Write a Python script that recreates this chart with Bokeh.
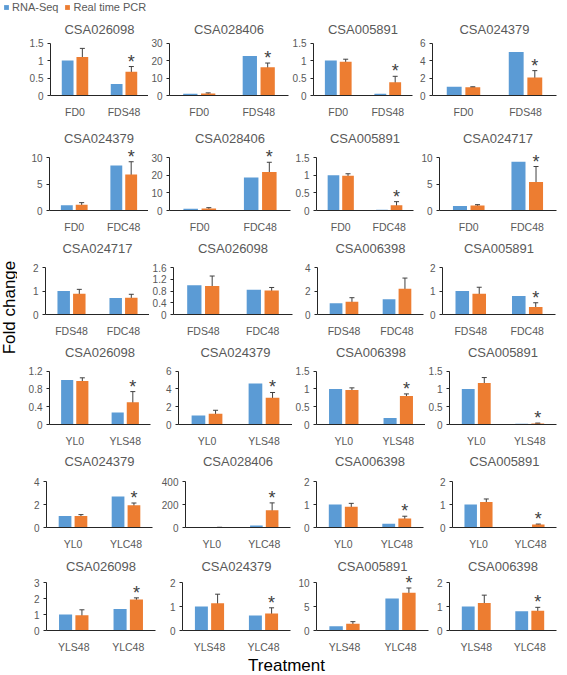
import numpy as np
from bokeh.plotting import figure
from bokeh.models import (Range1d, FixedTicker, NumeralTickFormatter, ColumnDataSource,
                          Whisker, TeeHead, LabelSet, Legend, LegendItem)
from bokeh.layouts import row, column
from bokeh.embed import file_html
from bokeh.resources import INLINE
from bokeh.core.properties import value

FONT = "Liberation Sans"
BLUE = "#5B9BD5"
ORANGE = "#ED7D31"
GREY = "#595959"
AXIS = "#262626"
ERRC = "#404040"

# ---------------- data (row-major, 6 rows x 4 columns) ----------------
genes = ["CSA026098", "CSA028406", "CSA005891", "CSA024379",
         "CSA024379", "CSA028406", "CSA005891", "CSA024717",
         "CSA024717", "CSA026098", "CSA006398", "CSA005891",
         "CSA026098", "CSA024379", "CSA006398", "CSA005891",
         "CSA024379", "CSA028406", "CSA006398", "CSA005891",
         "CSA026098", "CSA024379", "CSA005891", "CSA006398"]

row_groups = [["FD0", "FDS48"], ["FD0", "FDC48"], ["FDS48", "FDC48"],
              ["YL0", "YLS48"], ["YL0", "YLC48"], ["YLS48", "YLC48"]]

rna_seq = [[1.0, 0.33], [1.0, 22.6], [1.0, 0.05], [1.0, 5.0],
           [1.0, 8.5], [1.0, 18.7], [1.0, 0.02], [0.85, 9.2],
           [1.0, 0.70], [1.0, 0.84], [0.95, 1.3], [1.0, 0.79],
           [1.0, 0.27], [1.0, 4.6], [1.0, 0.18], [1.0, 0.02],
           [1.0, 2.7], [1.0, 17.0], [1.0, 0.16], [1.0, 0.005],
           [1.0, 1.35], [1.0, 0.63], [0.87, 6.7], [1.0, 0.81]]

pcr = [[1.1, 0.68], [1.1, 16.2], [0.97, 0.38], [0.95, 2.05],
       [1.1, 6.8], [1.1, 21.8], [0.98, 0.15], [0.95, 5.4],
       [0.88, 0.71], [0.97, 0.82], [1.08, 2.2], [0.88, 0.32],
       [0.98, 0.50], [1.2, 3.0], [0.97, 0.80], [1.17, 0.03],
       [1.0, 1.93], [1.1, 149.0], [0.90, 0.39], [1.11, 0.13],
       [0.95, 1.95], [1.14, 0.71], [1.4, 7.9], [1.15, 0.83]]

pcr_err = [[0.25, 0.15], [0.4, 2.4], [0.07, 0.17], [0.05, 0.8],
           [0.38, 2.4], [0.5, 5.5], [0.06, 0.1], [0.15, 2.9],
           [0.19, 0.15], [0.34, 0.1], [0.35, 0.9], [0.28, 0.18],
           [0.07, 0.24], [0.4, 0.6], [0.06, 0.06], [0.15, 0.01],
           [0.12, 0.2], [0.5, 65.0], [0.15, 0.1], [0.13, 0.02],
           [0.35, 0.1], [0.38, 0.24], [0.45, 1.0], [0.33, 0.14]]

significant = [[0, 1], [0, 1], [0, 1], [0, 1],
               [0, 1], [0, 1], [0, 1], [0, 1],
               [0, 0], [0, 0], [0, 0], [0, 1],
               [0, 1], [0, 1], [0, 1], [0, 1],
               [0, 1], [0, 1], [0, 1], [0, 1],
               [0, 1], [0, 1], [0, 1], [0, 1]]

y_max = [1.5, 30, 1.5, 6,
         10, 30, 1.5, 10,
         2, 1.6, 4, 2,
         1.2, 6, 1.5, 1.5,
         4, 400, 2, 2,
         3, 2, 10, 2]

y_ticks = [[0, 0.5, 1, 1.5], [0, 10, 20, 30], [0, 0.5, 1, 1.5], [0, 2, 4, 6],
           [0, 5, 10], [0, 10, 20, 30], [0, 0.5, 1, 1.5], [0, 5, 10],
           [0, 1, 2], [0, 0.4, 0.8, 1.2, 1.6], [0, 2, 4], [0, 1, 2],
           [0, 0.4, 0.8, 1.2], [0, 2, 4, 6], [0, 0.5, 1, 1.5], [0, 0.5, 1, 1.5],
           [0, 2, 4], [0, 200, 400], [0, 1, 2], [0, 1, 2],
           [0, 1, 2, 3], [0, 1, 2], [0, 5, 10], [0, 1, 2]]

legend_labels = ["RNA-Seq", "Real time PCR"]
y_title = "Fold change"
x_title = "Treatment"

# ---------------- layout (page pixel geometry) ----------------
LEG_H = 13
STRIP_W = 17
ROW_CELLS = [(13, 120), (120, 235), (235, 340), (340, 449), (449, 554), (554, 655)]
ROW_FRAMES = [(44, 99), (157, 210), (267, 314), (371, 425), (481, 527), (585, 638)]
TITLE_GAP = [14, 19, 19, 19, 20, 18]   # px from top tick to title centre
COL_BOUNDS = [[17, 148, 289, 415, 567],
              [17, 148, 291, 416, 567],
              [17, 149, 297, 425, 567],
              [17, 157, 292, 425, 567],
              [17, 156, 296, 430, 567],
              [17, 160, 293, 431, 567]]
COL_FRAMES = [[(50, 148), (168, 288), (313, 412), (432, 556)],
              [(49, 148), (168, 290), (316, 413), (439, 556)],
              [(45, 149), (172, 292), (317, 423), (442, 555)],
              [(49, 150), (178, 292), (315, 425), (448, 556)],
              [(46, 152), (185, 290), (316, 423), (452, 556)],
              [(46, 155), (182, 290), (316, 428), (449, 556)]]
EXTRA = 28          # headroom (px) above the top tick for title and stars
DODGE = 0.15
BAR_W = 0.24
XLAB_H = 20


def make_panel(i, r, c):
    xb0, xb1 = COL_BOUNDS[r][c], COL_BOUNDS[r][c + 1]
    fl, fr = COL_FRAMES[r][c]
    ct, cb = ROW_CELLS[r]
    ft, fb = ROW_FRAMES[r]
    h = fb - ft
    y_end = y_max[i] * (h + EXTRA) / h
    p = figure(width=xb1 - xb0, height=cb - ct,
               x_range=Range1d(0, 2), y_range=Range1d(0, y_end),
               output_backend="svg", toolbar_location=None, tools="",
               min_border_left=fl - xb0, min_border_right=xb1 - fr,
               min_border_top=ft - EXTRA - ct, min_border_bottom=cb - fb)
    p.outline_line_color = None
    p.xgrid.visible = False
    p.ygrid.visible = False
    p.background_fill_color = "white"
    p.border_fill_color = "white"

    # panel title (gene name), centred over the plot area
    p.text(x=[1.0], y=[y_max[i] * (h + TITLE_GAP[r]) / h], text=[genes[i]],
           text_align="center", text_baseline="middle",
           text_font=value(FONT), text_font_size="13px", text_color=GREY)

    centers = np.arange(2) + 0.5
    xb = centers - DODGE
    xo = centers + DODGE
    p.vbar(x=xb, top=rna_seq[i], bottom=0, width=BAR_W, fill_color=BLUE, line_color=None)
    p.vbar(x=xo, top=pcr[i], bottom=0, width=BAR_W, fill_color=ORANGE, line_color=None)

    top = np.array(pcr[i]) + np.array(pcr_err[i])
    low = np.array(pcr[i]) - np.array(pcr_err[i])
    esrc = ColumnDataSource(dict(x=xo, upper=top, lower=low))
    p.add_layout(Whisker(source=esrc, base="x", upper="upper", lower="lower",
                         line_color=ERRC, line_width=1,
                         upper_head=TeeHead(size=5, line_color=ERRC, line_width=1),
                         lower_head=TeeHead(size=5, line_color=ERRC, line_width=1)))

    mask = np.array(significant[i]) == 1
    if mask.any():
        ssrc = ColumnDataSource(dict(x=xo[mask], y=top[mask], t=["*"] * int(mask.sum())))
        p.add_layout(LabelSet(source=ssrc, x="x", y="y", text="t",
                              text_font=value(FONT), text_font_size="18px",
                              text_color=ERRC, text_align="center",
                              text_baseline="middle", y_offset=5))

    grp = row_groups[r]
    p.xaxis.ticker = FixedTicker(ticks=list(centers))
    p.xaxis.major_label_overrides = {float(centers[k]): grp[k] for k in range(2)}
    p.xaxis.major_tick_line_color = None
    p.xaxis.minor_tick_line_color = None
    p.xaxis.axis_line_color = AXIS
    p.xaxis.major_label_text_font = FONT
    p.xaxis.major_label_text_font_size = "10.5px"
    p.xaxis.major_label_text_color = GREY
    p.xaxis.major_label_standoff = 4

    p.yaxis.ticker = FixedTicker(ticks=y_ticks[i])
    p.yaxis.bounds = (0, y_max[i])
    p.yaxis.formatter = NumeralTickFormatter(format="0.[0]")
    p.yaxis.major_tick_out = 3
    p.yaxis.major_tick_in = 0
    p.yaxis.major_tick_line_color = AXIS
    p.yaxis.minor_tick_line_color = None
    p.yaxis.axis_line_color = AXIS
    p.yaxis.major_label_text_font = FONT
    p.yaxis.major_label_text_font_size = "10px"
    p.yaxis.major_label_text_color = GREY
    p.yaxis.major_label_standoff = 4
    return p


def blank(width, height):
    f = figure(width=width, height=height, x_range=Range1d(0, 1), y_range=Range1d(0, 1),
               min_border=0, x_axis_location=None, y_axis_location=None,
               output_backend="svg", toolbar_location=None, tools="")
    f.outline_line_color = None
    f.xgrid.visible = False
    f.ygrid.visible = False
    return f


rows = []
for r in range(6):
    figs = [make_panel(r * 4 + c, r, c) for c in range(4)]
    rows.append(row(*figs, spacing=0))
grid = column(*rows, spacing=0)
grid_h = ROW_CELLS[-1][1] - ROW_CELLS[0][0]

# legend strip
leg = blank(567, LEG_H)
r_b = leg.vbar(x=[0.5], top=[0.0], bottom=[0.0], width=0.1, fill_color=BLUE, line_color=None)
r_o = leg.vbar(x=[0.5], top=[0.0], bottom=[0.0], width=0.1, fill_color=ORANGE, line_color=None)
legend = Legend(items=[LegendItem(label=legend_labels[0], renderers=[r_b]),
                       LegendItem(label=legend_labels[1], renderers=[r_o])],
                location=(3, 0), orientation="horizontal",
                glyph_width=6, glyph_height=6, label_standoff=3, spacing=6,
                padding=0, margin=0, label_height=12,
                label_text_font=FONT, label_text_font_size="11px",
                label_text_color=GREY, border_line_color=None,
                background_fill_alpha=0)
leg.add_layout(legend)

# y title strip
ylab = blank(STRIP_W, grid_h)
ylab.text(x=[0.5], y=[(ROW_CELLS[-1][1] - 307) / grid_h], text=[y_title], angle=np.pi / 2,
          text_align="center", text_baseline="middle",
          text_font=value(FONT), text_font_size="17px", text_color="black")

# x title strip
xlab = blank(567, XLAB_H)
xlab.text(x=[286 / 567], y=[0.5], text=[x_title],
          text_align="center", text_baseline="middle",
          text_font=value(FONT), text_font_size="17px", text_color="black")

layout = column(leg, row(ylab, grid, spacing=0), xlab, spacing=0)

with open("out.html", "w") as f:
    f.write(file_html(layout, INLINE))
